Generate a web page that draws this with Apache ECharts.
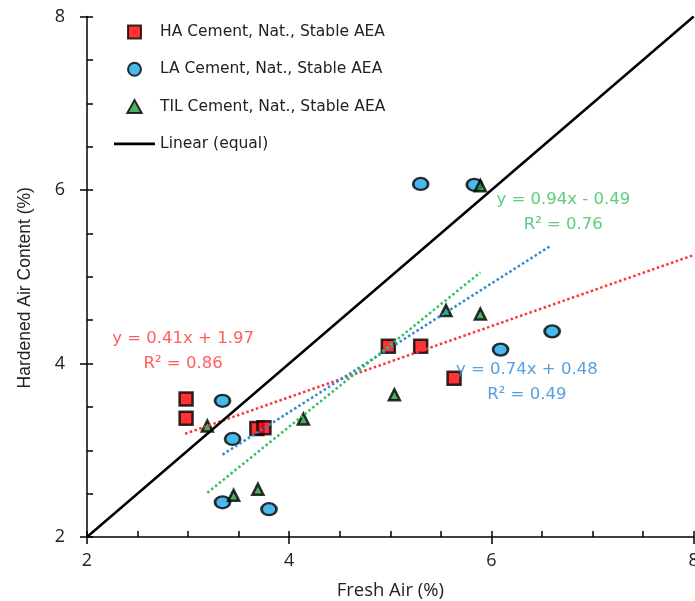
<!DOCTYPE html>
<html>
<head>
<meta charset="utf-8">
<script src="https://cdn.jsdelivr.net/npm/echarts@6/dist/echarts.min.js"></script>
<style>html,body{margin:0;padding:0;background:#fff}#c{width:695px;height:601px}</style>
</head>
<body>
<div id="c"></div>
<script>
// ---- data ----
const haPoints  = [[2.98,3.59],[2.98,3.37],[3.68,3.25],[3.75,3.26],[4.98,4.20],[5.30,4.20],[5.63,3.83]];
const laPoints  = [[5.30,6.07],[5.83,6.06],[6.60,4.37],[6.09,4.16],[3.34,3.57],[3.44,3.13],[3.34,2.40],[3.80,2.32]];
const tilPoints = [[5.89,6.05],[5.55,4.61],[5.89,4.57],[5.04,3.64],[3.19,3.28],[4.14,3.36],[3.45,2.48],[3.69,2.55]];
const equalLine = [[2,2],[8,8]];
const haTrend  = [[2.97,3.19],[8,5.25]];
const laTrend  = [[3.34,2.95],[6.59,5.36]];
const tilTrend = [[3.19,2.51],[5.89,5.05]];
const haLabel  = {pos:[2.95,4.14], text:'y = 0.41x + 1.97\nR² = 0.86'};
const laLabel  = {pos:[6.35,3.78], text:'y = 0.74x + 0.48\nR² = 0.49'};
const tilLabel = {pos:[6.71,5.74], text:'y = 0.94x - 0.49\nR² = 0.76'};
const seriesNames = ['HA Cement, Nat., Stable AEA','LA Cement, Nat., Stable AEA','TIL Cement, Nat., Stable AEA','Linear (equal)'];
const axisMin = 2, axisMax = 8, majorStep = 2, minorStep = 0.5;
const xTitle = 'Fresh Air (%)', yTitle = 'Hardened Air Content (%)';

const RED = '#ff3434', BLUE = '#2e88d4', GREEN = '#35bf5e';

function labelSeries(lbl, color) {
  return {
    type: 'scatter', data: [lbl.pos], symbolSize: 0, silent: true, z: 10,
    label: { show: true, position: 'inside', formatter: lbl.text, color: color,
             fontFamily: 'DejaVu Sans', fontSize: 16.5, lineHeight: 25, align: 'center' }
  };
}
function trendSeries(pts, color) {
  return { type: 'line', data: pts, symbol: 'none', silent: true, z: 6,
           lineStyle: { color: color, width: 2.5, type: [2.5, 2.5] } };
}
const mkAxis = (extra) => Object.assign({
  type: 'value', min: axisMin, max: axisMax, interval: minorStep,
  splitLine: { show: false },
  axisLine: { show: true, onZero: false, lineStyle: { color: '#000', width: 1.5 } },
  axisTick: { show: true, inside: true, length: 6, lineStyle: { color: '#000', width: 1.5 } },
  axisLabel: { show: false }
}, extra);
const mkMajor = (extra) => Object.assign({
  type: 'value', min: axisMin, max: axisMax, interval: majorStep,
  splitLine: { show: false },
  axisLine: { show: false, onZero: false },
  axisTick: { show: true, inside: false, length: 7, lineStyle: { color: '#000', width: 1.5 } }
}, extra);
const tickFont = { color: '#222', fontFamily: 'Open Sans', fontSize: 18 };

const chart = echarts.init(document.getElementById('c'), null, { renderer: 'canvas' });
chart.setOption({
  animation: false,
  backgroundColor: '#fff',
  grid: { left: 87, right: 1.3, top: 16.5, bottom: 64, containLabel: false, outerBoundsMode: 'none' },
  xAxis: [
    mkAxis({ position: 'bottom', name: xTitle, nameLocation: 'middle', nameGap: 44,
             nameTextStyle: { color: '#222', fontFamily: 'Open Sans', fontSize: 18.5 } }),
    mkMajor({ position: 'bottom', axisLabel: Object.assign({ show: true, margin: 15 }, tickFont) })
  ],
  yAxis: [
    mkAxis({ position: 'left', name: yTitle, nameLocation: 'middle', nameGap: 53,
             nameTextStyle: { color: '#222', fontFamily: 'Liberation Sans', fontSize: 17.5,
                              padding: [0, 22, 0, 0] } }),
    mkMajor({ position: 'left', axisLabel: Object.assign({ show: true, margin: 22 }, tickFont) })
  ],
  legend: {
    data: [
      { name: seriesNames[0], icon: 'path://M0,0H10V10H0Z' },
      { name: seriesNames[1], icon: 'circle' },
      { name: seriesNames[2], icon: 'path://M5,0L10,9H0Z' },
      { name: seriesNames[3], icon: 'path://M0,0H42V3H0Z' }
    ],
    orient: 'vertical', left: 109, top: 19,
    itemWidth: 41, itemHeight: 13, itemGap: 21.3, symbolKeepAspect: true,
    textStyle: { color: '#222', fontFamily: 'DejaVu Sans', fontSize: 15.5 }
  },
  series: [
    { name: seriesNames[0], type: 'scatter', data: haPoints, symbol: 'rect', symbolSize: 13, z: 3,
      itemStyle: { color: '#ff0000', borderColor: '#000', borderWidth: 2.5 } },
    { name: seriesNames[1], type: 'scatter', data: laPoints, symbol: 'circle', symbolSize: [15, 12], z: 4,
      itemStyle: { color: '#1ea6e6', borderColor: '#000', borderWidth: 2.5 } },
    { name: seriesNames[2], type: 'scatter', data: tilPoints, symbol: 'triangle', symbolSize: 11, z: 5,
      itemStyle: { color: '#1c9c3c', borderColor: '#000', borderWidth: 2.5 } },
    { name: seriesNames[3], type: 'line', data: equalLine, symbol: 'none', z: 7,
      lineStyle: { color: '#000', width: 2.5 }, itemStyle: { color: '#000' } },
    trendSeries(haTrend, RED), trendSeries(laTrend, BLUE), trendSeries(tilTrend, GREEN),
    labelSeries(haLabel, RED), labelSeries(laLabel, BLUE), labelSeries(tilLabel, GREEN)
  ]
});
</script>
</body>
</html>
